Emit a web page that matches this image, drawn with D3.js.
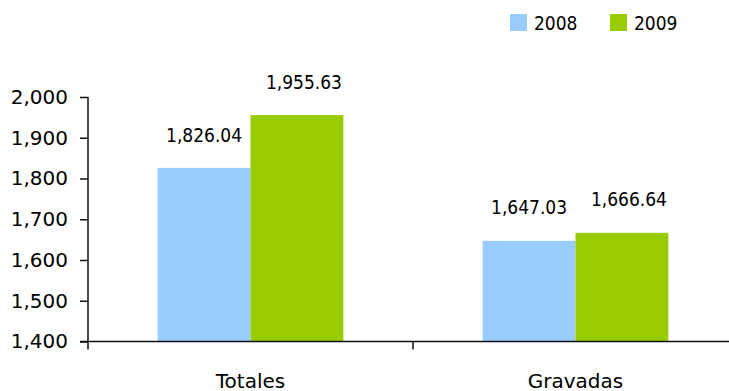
<!DOCTYPE html>
<html>
<head>
<meta charset="utf-8">
<script src="https://cdn.jsdelivr.net/npm/d3@7"></script>
<style>
  body { margin: 0; background: #fff; }
  svg { display: block; font-family: "DejaVu Sans Condensed", "DejaVu Sans", sans-serif; }
</style>
</head>
<body>
<div id="chart"></div>
<script>
const categories = ["Totales", "Gravadas"];
const seriesNames = ["2008", "2009"];
const values2008 = [1826.04, 1647.03];
const values2009 = [1955.63, 1666.64];
const yTicks = [1400, 1500, 1600, 1700, 1800, 1900, 2000];
const colors = ["#99CCFF", "#99CC00"];

const w = 729, h = 391;
const margin = {left: 88, top: 97, bottom: 341.5};
const fontSize = 19;

const svg = d3.select("#chart").append("svg")
  .attr("width", w)
  .attr("height", h);

const yScale = d3.scaleLinear()
  .domain([1400, 2000])
  .range([margin.bottom, margin.top]);

const xScale = d3.scaleBand()
  .domain(categories)
  .range([margin.left, margin.left + 650]);

const subScale = d3.scaleBand()
  .domain(seriesNames)
  .range([0, xScale.bandwidth()])
  .paddingOuter(0.75);

const series = [values2008, values2009];

// bars
const groups = svg.append("g")
  .selectAll("g")
  .data(categories)
  .enter()
  .append("g")
  .attr("transform", function(d) {
    return "translate(" + xScale(d) + ",0)";
  });

groups.selectAll("rect")
  .data(function(d, i) {
    return seriesNames.map(function(s, j) {
      return {name: s, value: series[j][i], color: colors[j]};
    });
  })
  .enter()
  .append("rect")
  .attr("x", function(d) { return subScale(d.name); })
  .attr("y", function(d) { return yScale(d.value); })
  .attr("width", subScale.bandwidth())
  .attr("height", function(d) { return yScale(1400) - yScale(d.value); })
  .attr("fill", function(d) { return d.color; });

// value labels
groups.selectAll("text")
  .data(function(d, i) {
    return seriesNames.map(function(s, j) {
      return {name: s, value: series[j][i], shift: j === 1 ? 7 : 0};
    });
  })
  .enter()
  .append("text")
  .text(function(d) { return d3.format(",.2f")(d.value); })
  .attr("x", function(d) { return subScale(d.name) + subScale.bandwidth() / 2 + d.shift; })
  .attr("y", function(d) { return yScale(d.value) - 33; })
  .attr("dy", "0.35em")
  .attr("text-anchor", "middle")
  .attr("font-size", fontSize)
  .attr("fill", "#000");

// y axis
const yAxis = d3.axisLeft(yScale)
  .tickValues(yTicks)
  .tickSize(8)
  .tickPadding(12)
  .tickFormat(d3.format(","));

const yAxisGroup = svg.append("g")
  .attr("transform", "translate(" + margin.left + ",0)")
  .call(yAxis);

yAxisGroup.select(".domain")
  .attr("d", "M0," + margin.top + "V" + margin.bottom)
  .attr("stroke", "#111")
  .attr("stroke-width", 1.5);
yAxisGroup.selectAll(".tick line")
  .attr("stroke", "#111")
  .attr("stroke-width", 1.5);
yAxisGroup.selectAll("text")
  .attr("font-size", 20)
  .attr("font-family", "DejaVu Sans, sans-serif")
  .attr("fill", "#000");

// x axis
const xAxisGroup = svg.append("g")
  .attr("transform", "translate(0," + margin.bottom + ")");

xAxisGroup.append("line")
  .attr("x1", margin.left - 8)
  .attr("x2", margin.left + 650)
  .attr("y1", 0)
  .attr("y2", 0)
  .attr("stroke", "#111")
  .attr("stroke-width", 1.5);

const boundaries = [xScale(categories[0])].concat(categories.map(function(c) {
  return xScale(c) + xScale.bandwidth();
}));

xAxisGroup.selectAll(".cat-tick")
  .data(boundaries)
  .enter()
  .append("line")
  .attr("class", "cat-tick")
  .attr("x1", function(d) { return d; })
  .attr("x2", function(d) { return d; })
  .attr("y1", 0)
  .attr("y2", 8)
  .attr("stroke", "#111")
  .attr("stroke-width", 1.5);

xAxisGroup.selectAll(".cat-label")
  .data(categories)
  .enter()
  .append("text")
  .attr("class", "cat-label")
  .text(function(d) { return d; })
  .attr("x", function(d) { return xScale(d) + xScale.bandwidth() / 2; })
  .attr("y", 46)
  .attr("text-anchor", "middle")
  .attr("font-size", 20)
  .attr("font-family", "DejaVu Sans, sans-serif")
  .attr("fill", "#000");

// legend
const legendX = [510, 610];
const legend = svg.append("g")
  .selectAll("g")
  .data(seriesNames)
  .enter()
  .append("g")
  .attr("transform", function(d, i) {
    return "translate(" + legendX[i] + ",14)";
  });

legend.append("rect")
  .attr("width", 17)
  .attr("height", 17)
  .attr("fill", function(d, i) { return colors[i]; });

legend.append("text")
  .text(function(d) { return d; })
  .attr("x", 24)
  .attr("y", 16)
  .attr("font-size", fontSize)
  .attr("fill", "#000");
</script>
</body>
</html>
